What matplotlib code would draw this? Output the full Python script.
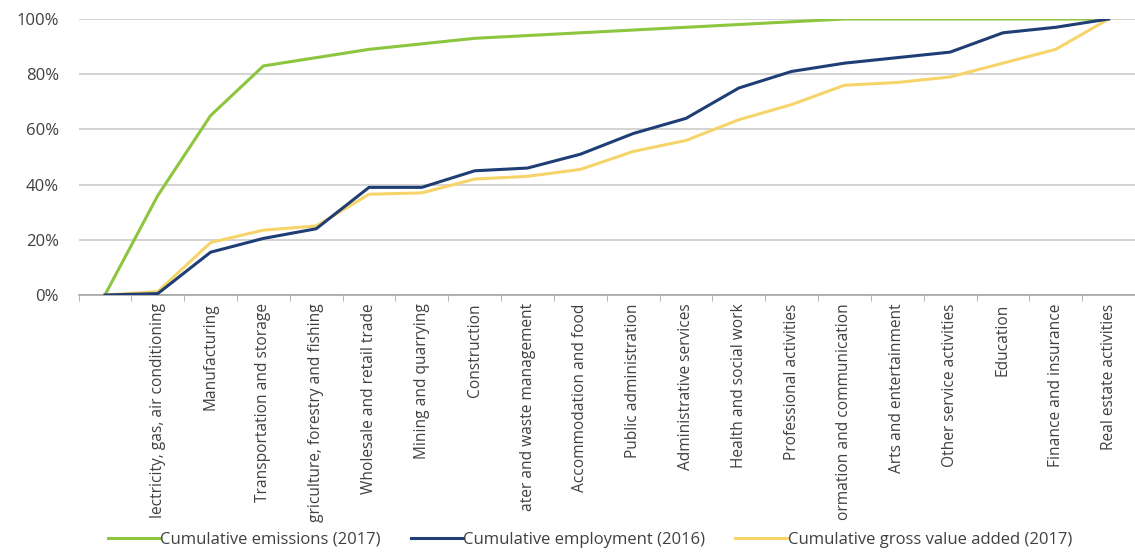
import matplotlib.pyplot as plt
import numpy as np

plt.rcParams['font.family'] = ['Open Sans', 'DejaVu Sans']

sectors = ['', 'lectricity, gas, air conditioning', 'Manufacturing', 'Transportation and storage',
           'griculture, forestry and fishing', 'Wholesale and retail trade', 'Mining and quarrying',
           'Construction', 'ater and waste management', 'Accommodation and food',
           'Public administration', 'Administrative services', 'Health and social work',
           'Professional activities', 'ormation and communication', 'Arts and entertainment',
           'Other service activities', 'Education', 'Finance and insurance', 'Real estate activities']

emissions = [0, 36, 65, 83, 86, 89, 91, 93, 94, 95, 96, 97, 98, 99, 100, 100, 100, 100, 100, 100]
employment = [0, 0.5, 15.5, 20.5, 24, 39, 39, 45, 46, 51, 58.5, 64, 75, 81, 84, 86, 88, 95, 97, 100]
gva = [0, 1.2, 19, 23.5, 25, 36.5, 37, 42, 43, 45.5, 52, 56, 63.5, 69, 76, 77, 79, 84, 89, 100]

x = np.arange(len(sectors))

fig = plt.figure(figsize=(11.35, 5.54), dpi=100)
ax = fig.add_axes([78.5 / 1135, 1 - 295 / 554, 1 - 78.5 / 1135, (295 - 19) / 554])

ax.plot(x, emissions, color='#8cc63f', lw=2.2, label='Cumulative emissions (2017)', zorder=3)
ax.plot(x, employment, color='#1f3e75', lw=2.2, label='Cumulative employment (2016)', zorder=4)
ax.plot(x, gva, color='#f7d46a', lw=2.2, label='Cumulative gross value added (2017)', zorder=3)

ax.set_xlim(-0.5, 19.44)
ax.set_ylim(0, 100)
ax.set_yticks(range(0, 101, 20))
ax.set_yticklabels([f'{v}%' for v in range(0, 101, 20)], fontsize=12, color='#404040')
ax.yaxis.grid(True, color='#cccccc', lw=1.2)
ax.set_axisbelow(True)
ax.tick_params(axis='y', length=0, pad=14)

ax.set_xticks(x)
ax.set_xticklabels(sectors, rotation=90, fontsize=11.2, color='#404040', va='top', ha='center')
ax.set_xticks(np.arange(-0.5, 20, 1), minor=True)
ax.tick_params(axis='x', which='major', length=0, pad=6)
ax.tick_params(axis='x', which='minor', length=4, color='#a6a6a6')

for side in ['top', 'right', 'left']:
    ax.spines[side].set_visible(False)
ax.spines['bottom'].set_color('#a6a6a6')
ax.spines['bottom'].set_linewidth(1.2)

fig.legend(loc='center', bbox_to_anchor=(590 / 1135, 1 - 540 / 554), ncol=3, frameon=False,
           fontsize=12, handlelength=3.1, handletextpad=0.05, columnspacing=1.8,
           labelcolor='#404040')

fig.savefig('out.png', dpi=100)
